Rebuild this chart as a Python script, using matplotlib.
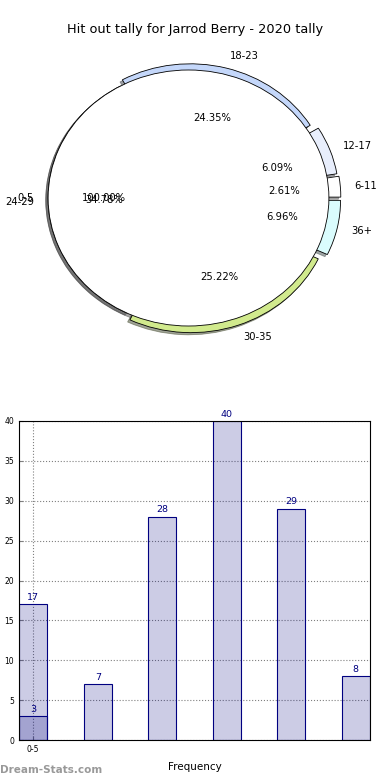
import matplotlib
matplotlib.use('Agg')
import matplotlib.pyplot as plt

# Data
pie_labels = ['6-11', '12-17', '18-23', '24-29', '30-35', '36+']
pie_values = [3, 7, 28, 40, 29, 8]
pie_colors = ['#ffffff', '#e8eefc', '#c4d7fa', '#cccccc', '#d1ea8d', '#dafcfd']
pie_explode = [0.085, 0.075, 0.05, 0.0, 0.055, 0.085]

first_label = ['0-5']
first_value = [17]

bar_values = [3, 7, 28, 40, 29, 8]

fig = plt.figure(figsize=(3.9, 7.8), dpi=100)

fig.text(0.5, 1 - 30 / 780, 'Hit out tally for Jarrod Berry - 2020 tally',
         ha='center', va='center', fontsize=9.3)

# Pie part (two pies drawn on the same axes, like the original)
ax1 = fig.add_axes([13 / 390, (780 - 358) / 780, 351 / 390, 320 / 780])
wedge_style = dict(edgecolor='black', linewidth=0.6)
shadow_style = dict(ox=-0.012, oy=-0.012)
ax1.pie(pie_values, labels=pie_labels, colors=pie_colors, explode=pie_explode,
        autopct='%.2f%%', shadow=shadow_style, startangle=0,
        wedgeprops=wedge_style, textprops=dict(fontsize=7.2))
ax1.pie(first_value, labels=first_label, colors=['white'],
        autopct='%.2f%%', shadow=shadow_style, startangle=0,
        wedgeprops=wedge_style, textprops=dict(fontsize=7.2))
ax1.set_aspect('auto')
ax1.set_xlim(-1.25, 1.25)
ax1.set_ylim(-1.25, 1.25)

# Bar part
w = 0.44
ax2 = fig.add_axes([19 / 390, 40 / 780, 351 / 390, 319 / 780])
x_all = list(range(len(bar_values)))
ax2.bar([0], first_value, width=w, color=(0, 0, 0.5, 0.2), edgecolor='navy',
        linewidth=0.8)
ax2.bar(x_all, bar_values, width=w, color=(0, 0, 0.5, 0.2), edgecolor='navy',
        linewidth=0.8)
for x, v in zip([0] + x_all, first_value + bar_values):
    ax2.text(x, v + 0.3, str(v), ha='center', va='bottom', color='navy',
             fontsize=6.8, clip_on=False)
ax2.set_xlim(-w / 2, len(bar_values) - 1 + w / 2)
ax2.set_ylim(0, 40)
ax2.set_yticks(range(0, 41, 5))
ax2.set_xticks([0])
ax2.set_xticklabels(first_label)
ax2.tick_params(labelsize=5.5, direction='in', length=3, color='gray')
ax2.grid(True, linestyle=':', color='gray', linewidth=0.8)
ax2.set_axisbelow(True)
ax2.set_xlabel('Frequency', fontsize=7.5, labelpad=6)

fig.text(0.0, 1 - 770 / 780, 'Dream-Stats.com', ha='left', va='center',
         fontsize=7.5, color='#999999', fontweight='bold')

fig.savefig('out.png', dpi=100)
